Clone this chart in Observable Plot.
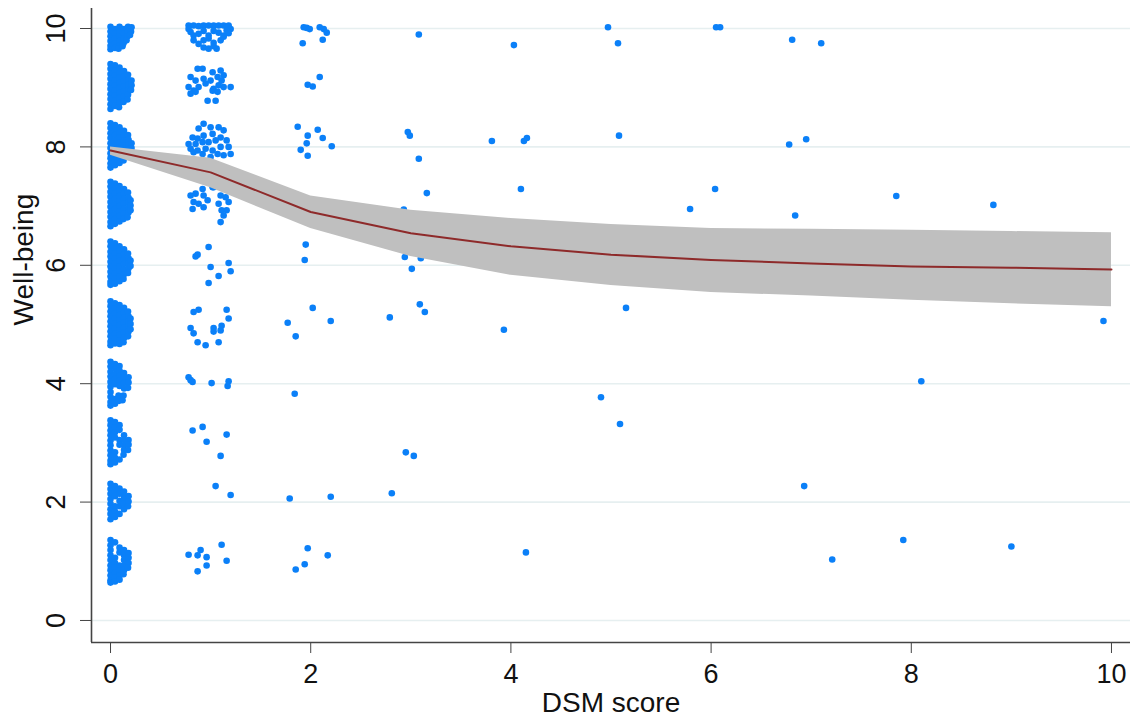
<!DOCTYPE html>
<html>
<head>
<meta charset="utf-8">
<script src="https://cdn.jsdelivr.net/npm/d3@7"></script>
<script src="https://cdn.jsdelivr.net/npm/@observablehq/plot@0.6"></script>
<style>
  html, body { margin: 0; padding: 0; background: #fff; }
  #chart { width: 1135px; height: 726px; }
</style>
</head>
<body>
<div id="chart"></div>
<script>
// ---- axis ticks ----
const xTicks = [0, 2, 4, 6, 8, 10];
const yTicks = [0, 2, 4, 6, 8, 10];
const xLabel = "DSM score";
const yLabel = "Well-being";

// ---- fitted curve with confidence band ----
const fitX   = [0, 1, 2, 3, 4, 5, 6, 7, 8, 9, 10];
const fitY   = [7.94, 7.57, 6.90, 6.54, 6.32, 6.18, 6.09, 6.03, 5.98, 5.96, 5.93];
const ciHigh = [8.00, 7.81, 7.17, 6.93, 6.79, 6.69, 6.62, 6.61, 6.59, 6.57, 6.55];
const ciLow  = [7.86, 7.31, 6.62, 6.15, 5.83, 5.66, 5.54, 5.48, 5.41, 5.35, 5.30];

// ---- jittered observations: DSM score 0 ----
const dsm0_w10 = [[0,10.03],[0,9.95],[0,9.87],[0,9.79],[0,9.71],[0,9.65],[0.045,9.99],[0.045,9.91],[0.045,9.83],[0.045,9.75],[0.045,9.67],[0.09,10.03],[0.09,9.95],[0.09,9.87],[0.09,9.79],[0.09,9.71],[0.08,9.66],[0.135,9.99],[0.135,9.91],[0.135,9.83],[0.13,9.75],[0.12,9.70],[0.175,10.03],[0.175,9.95],[0.17,9.87],[0.16,9.80],[0.21,10.02],[0.205,9.95],[0.195,9.89]];
const dsm0_w9 = [[0,9.40],[0,9.32],[0,9.23],[0,9.15],[0,9.06],[0,8.98],[0,8.89],[0,8.81],[0,8.72],[0,8.64],[0.045,9.38],[0.045,9.29],[0.045,9.21],[0.045,9.12],[0.045,9.04],[0.045,8.95],[0.045,8.87],[0.045,8.78],[0.045,8.69],[0.09,9.34],[0.09,9.25],[0.09,9.17],[0.09,9.08],[0.09,9.00],[0.09,8.91],[0.09,8.83],[0.09,8.74],[0.085,8.67],[0.135,9.28],[0.135,9.19],[0.135,9.11],[0.135,9.02],[0.135,8.94],[0.135,8.85],[0.13,8.76],[0.175,9.22],[0.18,9.13],[0.18,9.05],[0.18,8.96],[0.175,8.88],[0.17,8.80],[0.21,9.12],[0.21,9.04],[0.205,8.96]];
const dsm0_w8 = [[0,8.40],[0,8.32],[0,8.23],[0,8.15],[0,8.06],[0,7.98],[0,7.89],[0,7.81],[0,7.72],[0,7.65],[0.045,8.37],[0.045,8.28],[0.045,8.20],[0.045,8.11],[0.045,8.02],[0.045,7.94],[0.045,7.85],[0.045,7.77],[0.045,7.69],[0.09,8.33],[0.09,8.24],[0.09,8.16],[0.09,8.07],[0.09,7.99],[0.09,7.90],[0.09,7.82],[0.09,7.73],[0.135,8.27],[0.135,8.19],[0.135,8.10],[0.135,8.02],[0.135,7.93],[0.135,7.85],[0.13,7.77],[0.175,8.20],[0.18,8.12],[0.18,8.03],[0.18,7.95],[0.175,7.87],[0.21,8.06],[0.21,7.98],[0.205,7.90]];
const dsm0_w7 = [[0,7.41],[0,7.33],[0,7.24],[0,7.16],[0,7.07],[0,6.99],[0,6.90],[0,6.82],[0,6.73],[0,6.66],[0.045,7.38],[0.045,7.29],[0.045,7.21],[0.045,7.12],[0.045,7.03],[0.045,6.95],[0.045,6.86],[0.045,6.78],[0.045,6.70],[0.09,7.34],[0.09,7.25],[0.09,7.17],[0.09,7.08],[0.09,7.00],[0.09,6.91],[0.09,6.83],[0.09,6.74],[0.135,7.29],[0.135,7.21],[0.135,7.12],[0.135,7.04],[0.135,6.95],[0.135,6.87],[0.13,6.78],[0.175,7.23],[0.18,7.14],[0.18,7.06],[0.18,6.97],[0.18,6.89],[0.17,6.81],[0.2,7.10],[0.2,7.01],[0.2,6.93]];
const dsm0_w6 = [[0,6.40],[0,6.32],[0,6.23],[0,6.15],[0,6.06],[0,5.98],[0,5.89],[0,5.81],[0,5.72],[0,5.67],[0.045,6.37],[0.045,6.28],[0.045,6.20],[0.045,6.11],[0.045,6.03],[0.045,5.94],[0.045,5.86],[0.045,5.77],[0.045,5.69],[0.09,6.32],[0.09,6.24],[0.09,6.15],[0.09,6.07],[0.09,5.98],[0.09,5.90],[0.09,5.81],[0.09,5.73],[0.135,6.27],[0.135,6.19],[0.135,6.10],[0.135,6.02],[0.135,5.93],[0.135,5.85],[0.13,5.77],[0.175,6.20],[0.18,6.12],[0.18,6.03],[0.18,5.95],[0.175,5.87],[0.2,6.08],[0.2,5.99]];
const dsm0_w5 = [[0,5.39],[0,5.31],[0,5.22],[0,5.14],[0,5.05],[0,4.97],[0,4.88],[0,4.80],[0,4.71],[0,4.65],[0.045,5.36],[0.045,5.27],[0.045,5.19],[0.045,5.10],[0.045,5.01],[0.045,4.93],[0.045,4.84],[0.045,4.76],[0.045,4.68],[0.09,5.33],[0.09,5.24],[0.09,5.16],[0.09,5.07],[0.09,4.99],[0.09,4.90],[0.09,4.82],[0.09,4.73],[0.09,4.67],[0.135,5.28],[0.135,5.20],[0.135,5.11],[0.135,5.03],[0.135,4.94],[0.135,4.86],[0.135,4.77],[0.13,4.70],[0.175,5.22],[0.18,5.14],[0.18,5.05],[0.18,4.97],[0.18,4.88],[0.175,4.80],[0.2,5.10],[0.2,5.01],[0.2,4.92]];
const dsm0_w4 = [[0,4.37],[0,4.29],[0,4.20],[0,4.12],[0,4.03],[0,3.95],[0,3.86],[0,3.78],[0,3.69],[0,3.63],[0.045,4.33],[0.05,4.25],[0.045,4.16],[0.045,4.08],[0.045,3.99],[0.045,3.74],[0.045,3.66],[0.09,4.30],[0.09,4.22],[0.09,4.13],[0.09,4.05],[0.09,3.96],[0.085,3.71],[0.08,3.80],[0.135,4.18],[0.135,4.09],[0.135,4.01],[0.135,3.92],[0.13,3.80],[0.12,3.72],[0.18,4.11],[0.18,4.02],[0.175,3.93]];
const dsm0_w3 = [[0,3.38],[0,3.30],[0,3.21],[0,3.13],[0,3.04],[0,2.96],[0,2.87],[0,2.79],[0,2.70],[0,2.64],[0.045,3.35],[0.045,3.26],[0.045,3.18],[0.045,3.09],[0.045,2.84],[0.045,2.75],[0.045,2.67],[0.09,3.30],[0.09,3.22],[0.09,3.05],[0.09,2.97],[0.09,2.72],[0.135,3.13],[0.135,3.05],[0.135,2.96],[0.135,2.88],[0.13,2.80],[0.18,3.05],[0.18,2.97],[0.175,2.88]];
const dsm0_w2 = [[0,2.31],[0,2.22],[0,2.14],[0,2.05],[0,1.97],[0,1.88],[0,1.80],[0,1.71],[0.045,2.27],[0.045,2.18],[0.045,2.10],[0.045,1.93],[0.045,1.84],[0.045,1.75],[0.09,2.23],[0.09,2.14],[0.09,2.02],[0.09,1.93],[0.09,1.80],[0.135,2.18],[0.135,2.10],[0.135,2.05],[0.135,1.97],[0.135,1.88],[0.18,2.10],[0.18,2.01],[0.175,1.93]];
const dsm0_w1 = [[0,1.36],[0,1.27],[0,1.19],[0,1.10],[0,1.02],[0,0.93],[0,0.85],[0,0.76],[0,0.68],[0,0.64],[0.045,1.32],[0.045,1.06],[0.045,0.97],[0.045,0.89],[0.045,0.80],[0.045,0.72],[0.045,0.66],[0.09,1.23],[0.09,1.15],[0.09,0.93],[0.09,0.84],[0.09,0.76],[0.09,0.69],[0.135,1.19],[0.135,1.10],[0.135,1.02],[0.135,0.93],[0.135,0.85],[0.13,0.78],[0.18,1.14],[0.18,1.06],[0.18,0.97],[0.175,0.89]];

// ---- DSM score 1 ----
const dsm1_high = [[0.78,10.05],[0.83,10.05],[0.88,10.04],[0.93,10.05],[0.98,10.05],[1.03,10.05],[1.08,10.05],[1.13,10.05],[1.18,10.05],[1.20,9.99],[0.78,9.99],[0.80,9.94],[0.83,9.88],[0.88,9.91],[0.93,9.96],[0.98,9.88],[1.03,9.96],[1.08,9.93],[1.13,9.88],[1.16,9.97],[0.83,9.80],[0.88,9.74],[0.93,9.80],[0.98,9.83],[1.03,9.76],[1.10,9.80],[0.93,9.68],[0.98,9.66],[1.03,9.70],[1.06,9.66],[1.13,9.86],[1.18,9.92],
  [0.87,9.32],[0.92,9.32],[1.02,9.26],[1.10,9.29],[0.80,9.18],[0.85,9.12],[0.93,9.15],[1.00,9.12],[1.07,9.18],[1.13,9.21],[0.78,9.01],[0.83,8.95],[0.88,9.01],[0.95,9.07],[1.03,8.98],[1.08,9.04],[1.13,9.01],[1.20,9.01],[0.80,8.90],[0.85,8.93],[1.02,8.95],[0.97,8.78],[1.05,8.78],[1.11,9.12],[1.07,8.93]];
const dsm1_mid = [[0.93,8.39],[0.88,8.31],[1.00,8.33],[1.08,8.33],[1.13,8.28],[0.82,8.16],[0.87,8.14],[0.93,8.19],[1.02,8.22],[1.10,8.16],[0.78,8.05],[0.85,8.05],[0.92,8.08],[0.98,8.08],[1.05,8.11],[1.16,8.11],[0.80,7.97],[0.87,7.94],[0.95,7.97],[1.02,7.94],[1.10,8.00],[1.18,8.00],[1.20,7.88],[0.92,7.88],[1.07,7.88],[1.13,7.86],[0.83,7.91],[1.00,7.83],
  [0.80,7.18],[0.85,7.21],[0.92,7.29],[0.93,7.18],[1.02,7.32],[1.10,7.18],[1.15,7.15],[0.83,7.07],[0.88,7.04],[0.97,7.10],[1.08,7.04],[1.18,7.07],[0.82,6.95],[0.93,6.98],[1.11,6.93],[1.16,6.93],[1.13,6.84],[1.10,6.73],[1.03,7.32]];
const dsm1_low = [[0.98,6.31],[0.85,6.15],[0.87,6.18],[1.00,5.97],[1.18,6.04],[1.20,5.90],[1.08,5.82],[0.98,5.70],
  [0.83,5.21],[0.88,5.25],[1.16,5.25],[1.18,5.10],[0.80,4.94],[0.83,4.85],[1.03,4.94],[1.03,4.88],[1.10,4.90],[1.11,4.98],[0.87,4.70],[0.95,4.65],[1.08,4.70],
  [0.78,4.11],[0.80,4.06],[0.82,4.03],[1.01,4.01],[1.18,4.04],[1.17,3.96],
  [0.82,3.21],[0.92,3.27],[0.96,3.02],[1.16,3.14],[1.10,2.78],[1.05,2.27],[1.20,2.12],
  [0.78,1.11],[0.87,1.10],[0.90,1.19],[0.96,1.07],[1.11,1.28],[1.16,1.01],[0.96,0.93],[0.87,0.83]];

// ---- DSM score 2 and 3 ----
const dsm2 = [[1.93,10.02],[1.96,10.01],[1.99,9.99],[2.09,10.02],[2.13,9.99],[2.16,9.93],[1.92,9.75],[2.12,9.81],[2.09,9.18],[1.97,9.05],[2.02,9.02],[1.87,8.34],[1.97,8.19],[2.07,8.29],[2.12,8.15],[1.96,8.06],[1.90,7.95],[1.97,7.85],[2.21,8.01],[1.95,6.35],[1.94,6.09],[2.02,5.28],[1.77,5.03],[2.20,5.06],[1.85,4.80],[1.84,3.83],[1.79,2.06],[2.20,2.09],[1.97,1.22],[2.17,1.10],[1.94,0.95],[1.85,0.86]];
const dsm3 = [[3.08,9.90],[2.97,8.25],[2.99,8.19],[3.08,7.80],[3.16,7.22],[2.93,6.94],[2.94,6.14],[3.01,5.94],[3.10,6.12],[3.09,5.34],[3.14,5.21],[2.79,5.12],[2.95,2.84],[3.03,2.78],[2.81,2.15]];
// ---- DSM score 4 and above ----
const dsmHigh = [[4.03,9.72],[4.97,10.02],[5.07,9.75],[6.05,10.02],[6.09,10.02],[6.81,9.81],[7.10,9.75],[3.81,8.10],[4.13,8.10],[4.16,8.15],[5.08,8.19],[6.78,8.04],[6.95,8.13],[4.10,7.29],[6.04,7.29],[5.79,6.95],[6.84,6.84],[7.85,7.17],[8.82,7.02],[5.15,5.28],[3.93,4.91],[9.92,5.06],[4.90,3.77],[5.09,3.32],[8.10,4.04],[6.93,2.27],[4.15,1.15],[7.21,1.03],[7.92,1.36],[9.00,1.25]];

const xDomain = [-0.19, 10.19];
const yDomain = [-0.372, 10.338];

const points = [
  ...dsm0_w10, ...dsm0_w9, ...dsm0_w8, ...dsm0_w7, ...dsm0_w6,
  ...dsm0_w5, ...dsm0_w4, ...dsm0_w3, ...dsm0_w2, ...dsm0_w1,
  ...dsm1_high, ...dsm1_mid, ...dsm1_low, ...dsm2, ...dsm3, ...dsmHigh
].map(([x, y]) => ({x, y}));

const band = fitX.map((x, i) => ({x, fit: fitY[i], lo: ciLow[i], hi: ciHigh[i]}));

const TICK_FONT = 27;
const TITLE_FONT = 28;
const chart = Plot.plot({
  width: 1135,
  height: 726,
  marginLeft: 91,
  marginRight: 5,
  marginTop: 8,
  marginBottom: 84,
  style: {fontFamily: "'Liberation Sans', Arial, Helvetica, sans-serif", color: "#111", background: "#fff"},
  x: {domain: xDomain},
  y: {domain: yDomain},
  marks: [
    Plot.ruleY(yTicks, {stroke: "#e6eff0", strokeWidth: 1.6}),
    Plot.dot(points, {x: "x", y: "y", r: 3.3, fill: "#0b80f8"}),
    Plot.areaY(band, {x: "x", y1: "lo", y2: "hi", fill: "#bfbfbf"}),
    Plot.line(band, {x: "x", y: "fit", stroke: "#8e2a2a", strokeWidth: 2}),
    Plot.ruleX([xDomain[0]], {stroke: "#444", strokeWidth: 1.6}),
    Plot.ruleY([yDomain[0]], {stroke: "#444", strokeWidth: 1.6}),
    Plot.axisX({ticks: xTicks, tickSize: 11, tickPadding: 10, fontSize: TICK_FONT, label: null, stroke: "#444", fill: "#111"}),
    Plot.axisY({ticks: yTicks, tickSize: 11, tickRotate: -90, tickPadding: 16, fontSize: TICK_FONT, label: null, stroke: "#444", fill: "#111"}),
    Plot.text([xLabel], {frameAnchor: "bottom", dy: 69, text: d => d, fontSize: TITLE_FONT, fill: "#111"}),
    Plot.text([yLabel], {frameAnchor: "left", dx: -67, rotate: -90, text: d => d, fontSize: TITLE_FONT, fill: "#111"})
  ]
});
document.getElementById("chart").appendChild(chart);
</script>
</body>
</html>
